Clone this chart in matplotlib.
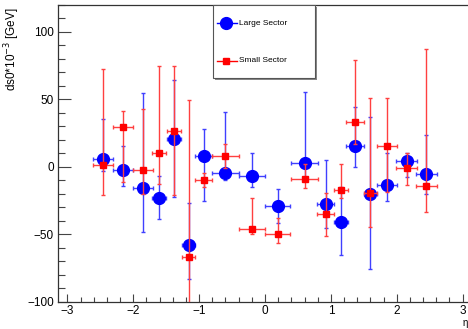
import numpy as np
import matplotlib
matplotlib.use("Agg")
import matplotlib.pyplot as plt
from matplotlib.lines import Line2D
from matplotlib.patches import Rectangle
from matplotlib.ticker import MultipleLocator

plt.rcParams['font.family'] = ['Liberation Sans', 'DejaVu Sans']

# ---- data ----
eta = [-2.46, -2.16, -1.85, -1.61, -1.38, -1.155, -0.93, -0.60, -0.20,
       0.19, 0.60, 0.92, 1.15, 1.37, 1.60, 1.85, 2.15, 2.45]
eta_err = [0.15, 0.15, 0.15, 0.10, 0.11, 0.10, 0.13, 0.20, 0.20,
           0.19, 0.20, 0.125, 0.105, 0.14, 0.105, 0.157, 0.157, 0.157]

large_val = [5.7, -2.2, -15.6, -22.9, 20.7, -58.0, 8.2, -4.2, -6.7,
             -29.4, 2.7, -27.4, -40.7, 15.6, -20.0, -13.8, 4.0, -5.2]
large_err_lo = [8.9, 11.9, 33.0, 15.8, 42.9, 25.4, 33.6, 5.7, 8.1,
                12.6, 10.7, 17.6, 25.0, 15.6, 56.0, 11.9, 11.4, 14.8]
large_err_hi = [30.1, 17.8, 70.2, 15.9, 43.5, 30.9, 19.7, 44.7, 16.6,
                12.6, 52.9, 32.4, 25.7, 28.8, 57.3, 24.4, 5.9, 28.5]

small_val = [1.0, 29.6, -2.0, 10.4, 26.7, -67.1, -9.9, 7.9, -45.9,
             -50.1, -9.1, -34.8, -17.5, 32.9, -19.5, 15.1, -0.7, -14.1]
small_err_lo = [22.0, 41.2, 18.0, 23.2, 47.7, 55.0, 5.0, 8.9, 4.0,
                6.7, 6.7, 16.5, 5.8, 16.1, 25.2, 33.6, 12.6, 19.5]
small_err_hi = [71.9, 11.9, 45.2, 64.2, 47.9, 116.5, 5.0, 8.9, 22.5,
                11.8, 10.9, 15.5, 19.3, 46.1, 70.9, 36.0, 10.6, 101.8]

labels = ["Large Sector", "Small Sector"]
ylabel = r"ds0*10$^{-3}$ [GeV]"
xlabel = "η"

W, H = 468, 329
fig = plt.figure(figsize=(W / 100, H / 100), dpi=100)
ax = fig.add_axes([58 / W, 1 - 301.7 / H, (472 - 58) / W, (301.7 - 5) / H])

blue = (0, 0, 1)
red = (1, 0, 0)

ax.errorbar(eta, large_val, xerr=eta_err, yerr=[large_err_lo, large_err_hi],
            fmt='o', color=blue, ecolor=(0.25, 0.25, 1), markersize=8.5,
            elinewidth=1, capsize=1.6, capthick=1, zorder=3)
ax.errorbar(eta, small_val, xerr=eta_err, yerr=[small_err_lo, small_err_hi],
            fmt='s', color=red, ecolor=(1, 0.25, 0.25), markersize=4,
            elinewidth=1, capsize=1.6, capthick=1, zorder=4)

ax.set_xlim(-np.pi, np.pi)
ax.set_ylim(-100, 120)
ax.xaxis.set_major_locator(MultipleLocator(1))
ax.xaxis.set_minor_locator(MultipleLocator(0.2))
ax.yaxis.set_major_locator(MultipleLocator(50))
ax.yaxis.set_minor_locator(MultipleLocator(10))
ax.tick_params(axis='both', which='both', direction='in', top=False, right=False,
               labelsize=8.5, color='#444444', width=0.8)
ax.tick_params(axis='y', which='major', length=9, pad=3)
ax.tick_params(axis='y', which='minor', length=5)
ax.tick_params(axis='x', which='major', length=6, pad=2.5)
ax.tick_params(axis='x', which='minor', length=3.5)
for s in ax.spines.values():
    s.set_linewidth(0.9)
    s.set_color('#333333')

fig.text(12 / W, 1 - 7 / H, ylabel, rotation=90, ha='center', va='top', fontsize=8.5)
fig.text(465.5 / W, 1 - 325.5 / H, xlabel, ha='center', va='baseline', fontsize=7)

# legend box (ROOT style with shadow)
lx0, ly0, lx1, ly1 = 213, 5, 315, 78
fig.add_artist(Rectangle(((lx0 + 2) / W, 1 - (ly1 + 2) / H), (lx1 - lx0) / W, (ly1 - ly0) / H,
                         facecolor='#888888', edgecolor='none', zorder=9))
fig.add_artist(Rectangle((lx0 / W, 1 - ly1 / H), (lx1 - lx0) / W, (ly1 - ly0) / H,
                         facecolor='white', edgecolor='#555555', linewidth=0.8, zorder=10))
for i, (lab, col, mk, ms) in enumerate([(labels[0], blue, 'o', 8.5), (labels[1], red, 's', 4)]):
    yy = 1 - (23.3 + i * 37.7) / H
    fig.add_artist(Line2D([217 / W, 237 / W], [yy, yy], color=col, linewidth=1, zorder=11))
    fig.add_artist(Line2D([226 / W], [yy], color=col, marker=mk, markersize=ms, zorder=12,
                          linestyle='none'))
    fig.text(239 / W, yy, lab, ha='left', va='center', fontsize=6, zorder=12)

fig.savefig("out.png", dpi=100)
